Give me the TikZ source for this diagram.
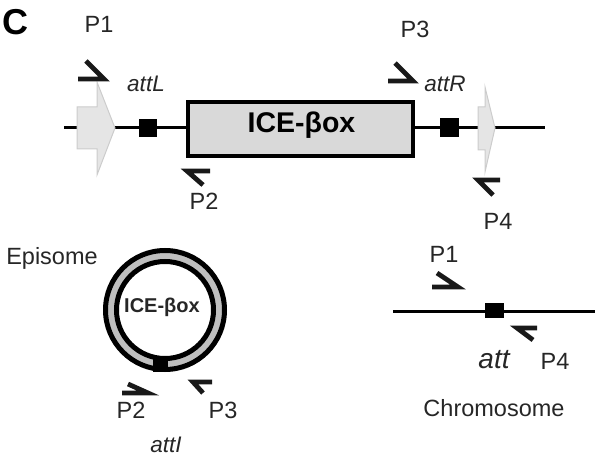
\documentclass[tikz,border=0pt]{standalone}
\usepackage{fontspec}
\setmainfont{Liberation Sans}
\usepackage{tikz}

\begin{document}
\begin{tikzpicture}[x=1pt, y=-1pt,
  lab/.style={font=\fontsize{23.5}{26}\selectfont, text=black!85, inner sep=0pt, anchor=base},
  site/.style={font=\fontsize{22.5}{26}\selectfont\itshape, text=black!85, inner sep=0pt, anchor=base},
  dna/.style={line width=3pt},
  att/.style={fill=black, minimum width=18pt, minimum height=18pt, inner sep=0pt},
  gene/.style={fill=gray!20, draw=gray!40, line width=1pt},
  primer/.style={line width=4.8pt, line join=miter, black!90},
  ice/.style={draw, line width=4pt, fill=gray!30, minimum width=225pt, minimum height=54pt, inner sep=0pt},
  icetxt/.style={font=\fontsize{28.5}{30}\selectfont\bfseries, inner sep=0pt, anchor=base},
]
\useasboundingbox (0,0) rectangle (595,457);

\node[font=\fontsize{36}{38}\selectfont\bfseries, inner sep=0pt, anchor=base] (panel) at (15,35) {C};

% integrated element
\coordinate (lend) at (64,128);
\coordinate (rend) at (545,128);
\node[att] (attL) at (148,128) {};
\node[ice] (ice) at (300.5,129) {};
\node[icetxt] (icelab) at (301.5,133) {ICE-βox};
\node[att, minimum width=19pt, minimum height=19pt] (attR) at (449.5,128) {};
\draw[dna] (lend) -- (attL) -- (ice.west |- lend);
\draw[dna] (ice.east |- rend) -- (attR) -- (rend);

\draw[gene] (77,107) -- (97,107) -- (97,82) -- (115,128) -- (97,175) -- (97,149) -- (77,149) -- cycle;
\draw[gene] (478,107) -- (485,107) -- (485,87) -- (495,128) -- (485,172) -- (485,150) -- (478,150) -- cycle;

\draw[primer] (86,61) -- (104,79) -- (78,79);
\draw[primer] (203,185) -- (187,171) -- (210,171);
\draw[primer] (395,63) -- (413,81) -- (388,81);
\draw[primer] (493,195) -- (478,180) -- (500,180);

\node[lab] (p1) at (99,33) {P1};
\node[lab] (p2) at (204,210) {P2};
\node[lab] (p3) at (415,38) {P3};
\node[lab] (p4) at (498,230) {P4};
\node[site] (attLlab) at (146,92) {attL};
\node[site] (attRlab) at (445,92) {attR};

% episome
\coordinate (epi) at (165,310);
\draw[line width=7pt, gray!50] (epi) circle[radius=54];
\draw[line width=5pt] (epi) circle[radius=59.5];
\draw[line width=5pt] (epi) circle[radius=48.5];
\node[att, minimum width=15pt, minimum height=15pt] (attI) at (160.5,365) {};
\node[icetxt, font=\fontsize{20}{22}\selectfont\bfseries, text=black!85] (epilab) at (162,313) {ICE-βox};
\node[lab] (episome) at (52,265) {Episome};

\draw[primer] (128,384) -- (148,393) -- (122,393);
\draw[primer] (203,393) -- (193,382) -- (212,382);
\node[lab] (ep2) at (131,418) {P2};
\node[lab] (ep3) at (223,418) {P3};
\node[site] (attIlab) at (166,452) {attI};

% chromosome
\coordinate (cl) at (393,312);
\coordinate (cr) at (595,312);
\node[att, minimum width=19pt, minimum height=15pt] (att) at (494.5,311) {};
\draw[dna] (cl) -- (att.west |- cl);
\draw[dna] (att.east |- cr) -- (cr);
\draw[primer] (437,273) -- (458,287) -- (432,287);
\draw[primer] (533,340) -- (517,328) -- (537,328);
\node[lab] (cp1) at (444,263) {P1};
\node[site, font=\fontsize{28}{30}\selectfont\itshape] (attlab) at (494,368) {att};
\node[lab] (cp4) at (555,370) {P4};
\node[lab] (chrom) at (494,417) {Chromosome};
\end{tikzpicture}
\end{document}
